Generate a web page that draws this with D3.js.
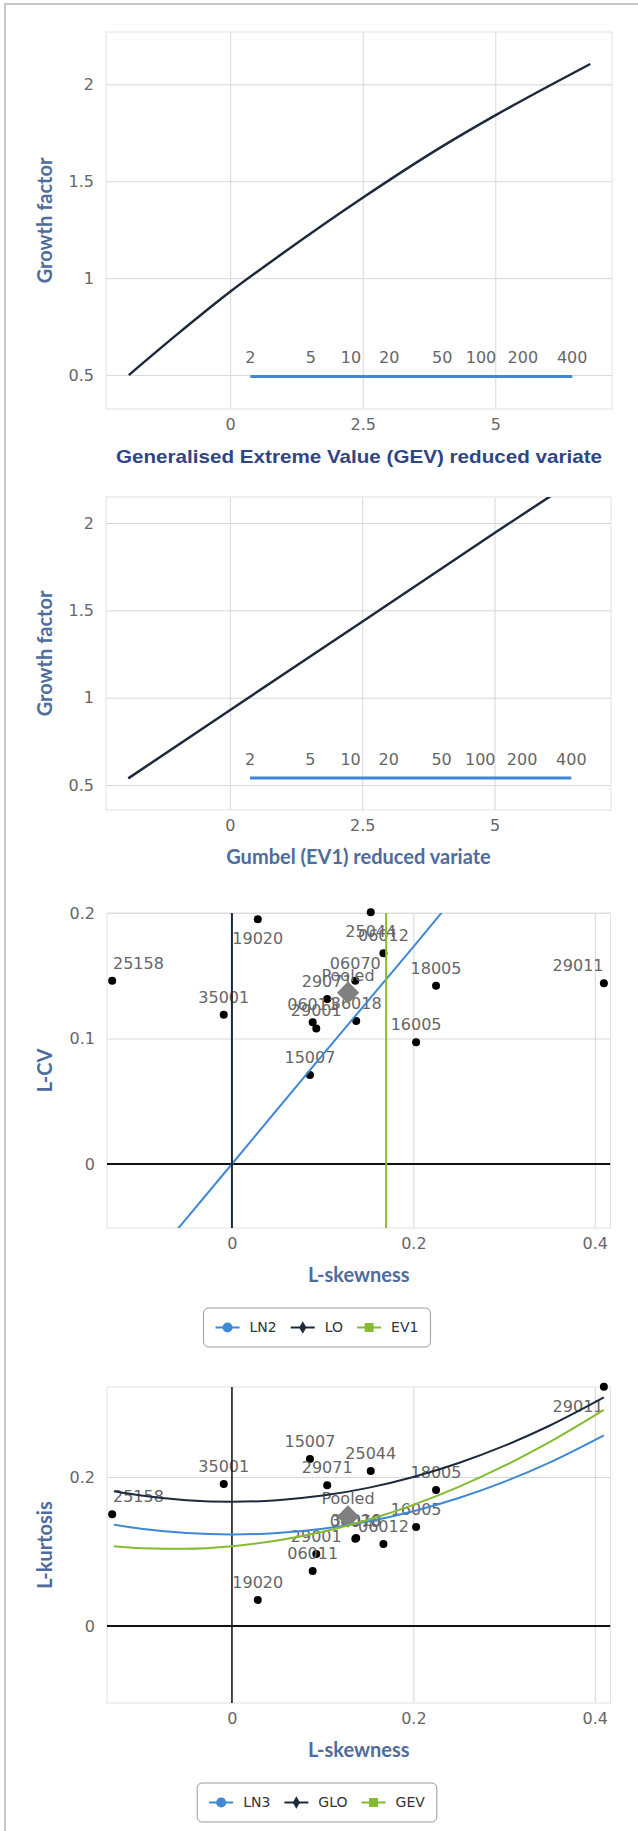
<!DOCTYPE html>
<html>
<head>
<meta charset="utf-8">
<script src="https://cdn.jsdelivr.net/npm/d3@7"></script>
<style>
  body { margin: 0; background: #fff; }
  svg text { font-family: "DejaVu Sans", sans-serif; }
</style>
</head>
<body>
<div id="chart"></div>
<script>
// ---- Data ----

// GEV growth curve (reduced variate, growth factor)
var gevVariate = [-1.91, -1, 0, 1, 2.5, 4, 5, 6, 6.79];
var gevGrowth = [0.5, 0.71, 0.93, 1.13, 1.415, 1.68, 1.84, 1.99, 2.105];

// Gumbel growth curve
var gumbelVariate = [-1.92, 0, 2.5, 5, 6.79];
var gumbelGrowth = [0.538, 0.928, 1.435, 1.943, 2.3];

// Return period scale drawn inside both growth plots
var returnPeriods = ["2", "5", "10", "20", "50", "100", "200", "400"];
var returnPeriodVariate = [0.38, 1.52, 2.28, 3.0, 4.0, 4.73, 5.52, 6.45];
var gevReturnLevel = 0.493;
var gumbelReturnLevel = 0.54;

// Axis ticks
var variateTicks = [0, 2.5, 5];
var growthTicks = [0.5, 1, 1.5, 2];
var skewTicks = [0, 0.2, 0.4];
var lcvTicks = [0, 0.1, 0.2];
var kurtTicks = [0, 0.2];

// Pooling group sites: L-skewness, L-CV, L-kurtosis
var sites = ["25158", "35001", "19020", "25044", "06012", "06070", "29071",
             "18005", "29011", "16005", "15007", "06011", "29001", "36018"];
var siteSkew = [-0.132, -0.009, 0.0285, 0.153, 0.167, 0.136, 0.105,
                0.225, 0.41, 0.203, 0.086, 0.089, 0.093, 0.137];
var siteLcv = [0.146, 0.119, 0.195, 0.2005, 0.168, 0.146, 0.1315,
               0.142, 0.144, 0.097, 0.071, 0.113, 0.108, 0.114];
var siteKurt = [0.150, 0.1906, 0.035, 0.208, 0.110, 0.117, 0.189,
                0.1826, 0.321, 0.133, 0.224, 0.0738, 0.0966, 0.118];

var pooledName = ["Pooled"];
var pooledSkew = [0.128];
var pooledLcv = [0.1365];
var pooledKurt = [0.147];

// Theoretical lines on the L-CV diagram
var ln2Skew = [-0.06, 0, 0.1, 0.2, 0.24];
var ln2Lcv = [-0.052, 0, 0.087, 0.173, 0.208];
var loSkew = [0, 0];
var loLcv = [-0.06, 0.21];
var ev1Skew = [0.17, 0.17];
var ev1Lcv = [-0.06, 0.21];

// Theoretical curves on the L-kurtosis diagram
var curveSkew = [-0.13, -0.1, -0.05, 0, 0.05, 0.1, 0.15, 0.2, 0.25, 0.3, 0.35, 0.41];
var ln3Kurt = [0.1359, 0.1306, 0.1248, 0.1228, 0.1248, 0.1306, 0.1403, 0.1540, 0.1718, 0.1935, 0.2194, 0.2560];
var gloKurt = [0.1808, 0.1750, 0.1688, 0.1667, 0.1688, 0.1750, 0.1854, 0.2000, 0.2188, 0.2417, 0.2688, 0.3068];
var gevKurt = [0.1071, 0.1045, 0.1036, 0.1070, 0.1147, 0.1265, 0.1425, 0.1626, 0.1867, 0.2148, 0.2468, 0.2901];

// ---- Colours ----
var navy = "#1d2a3b";
var blue = "#3f88d6";
var green = "#85bb2f";
var titleBlue = "#4e6c9c";

var svg = d3.select("#chart").append("svg")
  .attr("width", 638)
  .attr("height", 1831);

// page frame (runs off the right and bottom of the window)
svg.append("rect")
  .attr("x", 5).attr("y", 4)
  .attr("width", 700).attr("height", 1900)
  .attr("fill", "none")
  .attr("stroke", "#c6c6c6")
  .attr("stroke-width", 2);

// Build one plot: scales, grid, tick labels, titles
function makePlot(cfg) {
  var x = d3.scaleLinear().domain(cfg.xDomain).range([cfg.left, cfg.right]);
  var y = d3.scaleLinear().domain(cfg.yDomain).range([cfg.bottom, cfg.top]);
  var w = cfg.right - cfg.left;
  var h = cfg.bottom - cfg.top;
  var g = svg.append("g");

  svg.append("clipPath").attr("id", "clip" + cfg.id)
    .append("rect")
    .attr("x", cfg.left).attr("y", cfg.top)
    .attr("width", w).attr("height", h);

  // x grid + labels
  var xAxis = g.append("g")
    .attr("transform", `translate(0, ${cfg.bottom})`)
    .call(d3.axisBottom(x).tickValues(cfg.xTicks).tickSize(-h).tickPadding(10).tickFormat(d3.format("")));
  // y grid + labels
  var yAxis = g.append("g")
    .attr("transform", `translate(${cfg.left}, 0)`)
    .call(d3.axisLeft(y).tickValues(cfg.yTicks).tickSize(-w).tickPadding(12).tickFormat(d3.format("")));

  [xAxis, yAxis].forEach(function(a) {
    a.select(".domain").remove();
    a.attr("font-family", "DejaVu Sans").attr("font-size", 16);
    a.selectAll(".tick line").attr("stroke", "#d7d7d7");
    a.selectAll(".tick text").attr("fill", "#666");
  });

  // plot border
  g.append("rect")
    .attr("x", cfg.left).attr("y", cfg.top)
    .attr("width", w).attr("height", h)
    .attr("fill", "none")
    .attr("stroke", "#e2e2e2");

  // x axis title
  var xt = g.append("text")
    .attr("x", (cfg.left + cfg.right) / 2)
    .attr("y", cfg.bottom + 47)
    .attr("dy", "0.35em")
    .attr("text-anchor", "middle")
    .style("font-family", cfg.xTitleFont || "Lato")
    .attr("font-size", cfg.xTitleSize || 20)
    .attr("font-weight", "bold")
    .attr("fill", cfg.xTitleColor || titleBlue)
    .text(cfg.xTitle);
  if (cfg.xTitleLength) {
    xt.attr("textLength", cfg.xTitleLength).attr("lengthAdjust", "spacingAndGlyphs");
  }

  // y axis title
  g.append("text")
    .attr("transform", `translate(45, ${(cfg.top + cfg.bottom) / 2}) rotate(-90)`)
    .attr("dy", "0.35em")
    .attr("text-anchor", "middle")
    .style("font-family", "Lato")
    .attr("font-size", 20)
    .attr("font-weight", "bold")
    .attr("fill", titleBlue)
    .text(cfg.yTitle);

  return { cfg: cfg, g: g, x: x, y: y, clip: "url(#clip" + cfg.id + ")" };
}

function drawLine(plot, xs, ys, color, width, curve) {
  plot.g.append("path")
    .datum(d3.zip(xs, ys))
    .attr("clip-path", plot.clip)
    .attr("fill", "none")
    .attr("stroke", color)
    .attr("stroke-width", width)
    .attr("d", d3.line()
      .x(d => plot.x(d[0]))
      .y(d => plot.y(d[1]))
      .curve(curve || d3.curveLinear));
}

// Data labels sit above the point, flip below at the top edge, and are kept inside the plot
function drawLabels(plot, xs, ys, names) {
  var cfg = plot.cfg;
  var lg = plot.g.append("g").attr("font-size", 16).attr("fill", "#666");
  names.forEach(function(name, i) {
    var px = plot.x(xs[i]);
    var py = plot.y(ys[i]);
    var t = lg.append("text").attr("text-anchor", "middle").text(name);
    var tw = t.node().getComputedTextLength();
    var cx = Math.min(cfg.right - 7 - tw / 2, Math.max(cfg.left + 6 + tw / 2, px));
    var by = py - 12;
    if (by - 12 < cfg.top) by = py + 25;
    t.attr("x", cx).attr("y", by);
  });
}

function drawPoints(plot, xs, ys) {
  plot.g.append("g").selectAll("circle")
    .data(d3.zip(xs, ys))
    .enter()
    .append("circle")
    .attr("cx", d => plot.x(d[0]))
    .attr("cy", d => plot.y(d[1]))
    .attr("r", 4)
    .attr("fill", "#000");
}

function drawPooled(plot, xs, ys) {
  plot.g.append("g").selectAll("path")
    .data(d3.zip(xs, ys))
    .enter()
    .append("path")
    .attr("d", d3.symbol(d3.symbolSquare, 250)())
    .attr("transform", d => `translate(${plot.x(d[0])}, ${plot.y(d[1])}) rotate(45)`)
    .attr("fill", "#808080");
}

function drawReturnScale(plot, level) {
  drawLine(plot, d3.extent(returnPeriodVariate), [level, level], blue, 3);
  plot.g.append("g").attr("font-size", 16).attr("fill", "#666")
    .selectAll("text")
    .data(returnPeriods)
    .enter()
    .append("text")
    .attr("x", (d, i) => plot.x(returnPeriodVariate[i]))
    .attr("y", plot.y(level) - 13)
    .attr("text-anchor", "middle")
    .text(d => d);
}

function drawLegend(plot, items) {
  var cfg = plot.cfg;
  var lg = svg.append("g");
  var box = lg.append("rect");
  var cursor = 12;
  items.forEach(function(it) {
    var ig = lg.append("g").attr("transform", `translate(${cursor}, 0)`);
    ig.append("line")
      .attr("x1", 0).attr("x2", 24)
      .attr("stroke", it.color).attr("stroke-width", 2);
    ig.append("path")
      .attr("d", d3.symbol(it.symbol, it.size)())
      .attr("transform", "translate(12, 0)")
      .attr("fill", it.color);
    var t = ig.append("text")
      .attr("x", 34)
      .attr("dy", "0.35em")
      .attr("font-size", 14)
      .attr("fill", "#333")
      .text(it.name);
    cursor += 34 + t.node().getComputedTextLength() + 14;
  });
  var bw = cursor - 14 + 12;
  box.attr("x", 0).attr("y", -19.5)
    .attr("width", bw).attr("height", 39)
    .attr("rx", 5)
    .attr("fill", "#fff")
    .attr("stroke", "#999");
  lg.attr("transform", `translate(${317 - bw / 2}, ${cfg.bottom + 99.5})`);
}

// ---- Plot 1: GEV growth curve ----
var p1 = makePlot({
  id: 1, left: 106, right: 612, top: 32, bottom: 409,
  xDomain: [-2.34, 7.2], yDomain: [0.325, 2.27],
  xTicks: variateTicks, yTicks: growthTicks,
  xTitle: "Generalised Extreme Value (GEV) reduced variate",
  xTitleFont: "Liberation Sans", xTitleSize: 19, xTitleColor: "#2f4686", xTitleLength: 486,
  yTitle: "Growth factor"
});
drawReturnScale(p1, gevReturnLevel);
drawLine(p1, gevVariate, gevGrowth, navy, 2.5, d3.curveMonotoneX);

// ---- Plot 2: Gumbel growth curve ----
var p2 = makePlot({
  id: 2, left: 106, right: 611, top: 497, bottom: 810,
  xDomain: [-2.34, 7.2], yDomain: [0.357, 2.149],
  xTicks: variateTicks, yTicks: growthTicks,
  xTitle: "Gumbel (EV1) reduced variate",
  yTitle: "Growth factor"
});
drawReturnScale(p2, gumbelReturnLevel);
drawLine(p2, gumbelVariate, gumbelGrowth, navy, 2.5);

// ---- Plot 3: L-CV vs L-skewness ----
var p3 = makePlot({
  id: 3, left: 107, right: 610.5, top: 913, bottom: 1228,
  xDomain: [-0.1377, 0.4173], yDomain: [-0.051, 0.2],
  xTicks: skewTicks, yTicks: lcvTicks,
  xTitle: "L-skewness", yTitle: "L-CV"
});
drawPoints(p3, siteSkew, siteLcv);
drawLabels(p3, siteSkew, siteLcv, sites);
drawPooled(p3, pooledSkew, pooledLcv);
drawLabels(p3, pooledSkew, pooledLcv, pooledName);
drawLine(p3, p3.x.domain(), [0, 0], "#111", 2);
drawLine(p3, ln2Skew, ln2Lcv, blue, 2);
drawLine(p3, loSkew, loLcv, navy, 2);
drawLine(p3, ev1Skew, ev1Lcv, green, 2);
drawLegend(p3, [
  { name: "LN2", color: blue, symbol: d3.symbolCircle, size: 80 },
  { name: "LO", color: navy, symbol: d3.symbolDiamond, size: 45 },
  { name: "EV1", color: green, symbol: d3.symbolSquare, size: 80 }
]);

// ---- Plot 4: L-kurtosis vs L-skewness ----
var p4 = makePlot({
  id: 4, left: 107, right: 610.5, top: 1387, bottom: 1703,
  xDomain: [-0.1377, 0.4173], yDomain: [-0.1034, 0.3208],
  xTicks: skewTicks, yTicks: kurtTicks,
  xTitle: "L-skewness", yTitle: "L-kurtosis"
});
drawPoints(p4, siteSkew, siteKurt);
drawLabels(p4, siteSkew, siteKurt, sites);
drawPooled(p4, pooledSkew, pooledKurt);
drawLabels(p4, pooledSkew, pooledKurt, pooledName);
drawLine(p4, p4.x.domain(), [0, 0], "#111", 2);
drawLine(p4, [0, 0], p4.y.domain(), "#111", 1.5);
drawLine(p4, curveSkew, ln3Kurt, blue, 2, d3.curveMonotoneX);
drawLine(p4, curveSkew, gloKurt, navy, 2, d3.curveMonotoneX);
drawLine(p4, curveSkew, gevKurt, green, 2, d3.curveMonotoneX);
drawLegend(p4, [
  { name: "LN3", color: blue, symbol: d3.symbolCircle, size: 80 },
  { name: "GLO", color: navy, symbol: d3.symbolDiamond, size: 45 },
  { name: "GEV", color: green, symbol: d3.symbolSquare, size: 80 }
]);
</script>
</body>
</html>
